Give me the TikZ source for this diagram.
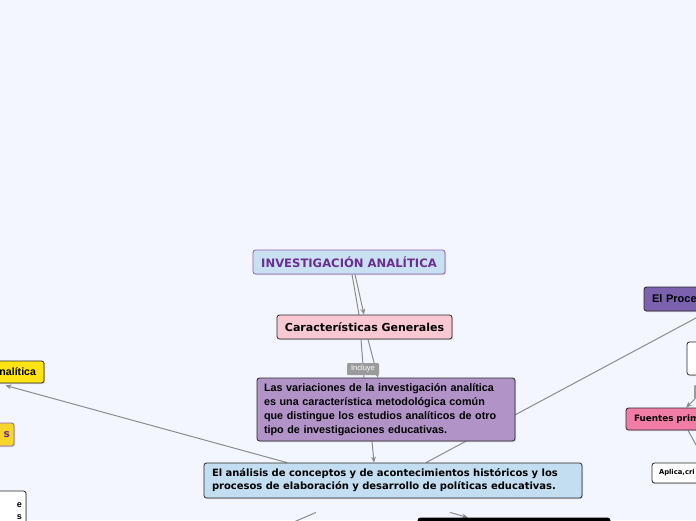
\documentclass[tikz,border=0pt]{standalone}
\usepackage{fontspec}
\setmainfont{DejaVu Sans}
\newfontfamily\arialf{Liberation Sans}
\usetikzlibrary{arrows.meta,shadows}
\pgfdeclarelayer{back}
\pgfdeclarelayer{lines}
\pgfsetlayers{back,lines,main}
\definecolor{bg}{RGB}{243,246,254}
\definecolor{conn}{RGB}{140,140,140}
\definecolor{lblgray}{RGB}{155,155,155}
\definecolor{invfill}{RGB}{200,224,242}
\definecolor{invdraw}{RGB}{142,98,184}
\definecolor{invtext}{RGB}{107,46,143}
\definecolor{pinkfill}{RGB}{250,200,211}
\definecolor{lilac}{RGB}{177,147,200}
\definecolor{bluefill}{RGB}{195,222,241}
\definecolor{yellowA}{RGB}{255,227,20}
\definecolor{yellowB}{RGB}{248,213,42}
\definecolor{procfill}{RGB}{124,97,175}
\definecolor{fuentesfill}{RGB}{241,124,166}
\definecolor{boxdraw}{RGB}{40,40,40}
\tikzset{
  mbox/.style={draw=boxdraw, line width=0.8pt, rounded corners=2.5pt, inner sep=0pt,
    drop shadow={opacity=0.3, shadow xshift=1pt, shadow yshift=-1pt}},
  conline/.style={draw=conn, line width=1pt},
  conarrow/.style={conline, -{Stealth[length=6pt,width=5pt]}},
  lbl/.style={fill=lblgray, text=white, rounded corners=1pt, inner sep=0pt, font=\arialf\fontsize{7.5}{8}\selectfont}
}
\begin{document}
\begin{tikzpicture}[x=1pt,y=-1pt]
\clip (0,0) rectangle (696,520);
\begin{pgfonlayer}{back}
\fill[bg] (0,0) rectangle (696,520);
\end{pgfonlayer}

\node[mbox, fill=invfill, draw=invdraw, text=invtext, minimum width=192pt, minimum height=24pt,
  font=\bfseries\fontsize{11.6}{13}\selectfont] (inv) at (349,262) {INVESTIGACIÓN ANALÍTICA};
\node[mbox, fill=pinkfill, minimum width=175pt, minimum height=24pt,
  font=\bfseries\fontsize{11}{13}\selectfont] (carac) at (364.5,327) {Características Generales};
\node[mbox, fill=lilac, minimum width=258pt, minimum height=63pt, text width=244pt, align=left,
  font=\arialf\bfseries\fontsize{10.8}{13.8}\selectfont] (purp) at (386,409.5)
  {Las variaciones de la investigación analítica\\es una característica metodológica común\\que distingue los estudios analíticos de otro\\tipo de investigaciones educativas.};
\node[mbox, fill=bluefill, minimum width=378pt, minimum height=35pt, text width=362pt, align=left,
  font=\bfseries\fontsize{10}{13}\selectfont] (blue) at (393,480.5)
  {El análisis de conceptos y de acontecimientos históricos y los\\procesos de elaboración y desarrollo de políticas educativas.};
\node[mbox, fill=yellowA, minimum width=120pt, minimum height=22pt, text width=104pt, align=right,
  font=\arialf\bfseries\fontsize{10.6}{12}\selectfont] (yela) at (-16,372) {nalítica};
\node[mbox, fill=yellowB, draw=invdraw, text=invtext, minimum width=60pt, minimum height=23pt, text width=52pt, align=right,
  font=\bfseries\fontsize{10.6}{12}\selectfont] (yelb) at (-16,434.5) {s};
\node[mbox, fill=white, minimum width=60pt, minimum height=40pt, text width=52pt, align=right,
  font=\arialf\bfseries\fontsize{9}{12}\selectfont] (wl) at (-4,511) {e\\s};
\node[mbox, fill=procfill, minimum width=120pt, minimum height=24pt, text width=104pt, align=left,
  font=\arialf\bfseries\fontsize{11}{13}\selectfont] (proc) at (704,299) {El Proce};
\node[mbox, fill=white, minimum width=60pt, minimum height=33pt] (rw) at (717,358.5) {};
\node[mbox, fill=fuentesfill, minimum width=120pt, minimum height=22pt, text width=104pt, align=left,
  font=\bfseries\fontsize{8.8}{10}\selectfont] (fuen) at (686,419) {Fuentes prim};
\node[mbox, fill=white, minimum width=100pt, minimum height=20pt, text width=86pt, align=left,
  font=\bfseries\fontsize{6.8}{8}\selectfont] (apl) at (702,473) {Aplica,cri};
\node[mbox, fill=black, draw=black, minimum width=192pt, minimum height=24pt] (blk) at (514,530) {};

\node[lbl, minimum width=32pt, minimum height=12pt] (incl) at (363,369) {Incluye};
\node[lbl, minimum width=16pt, minimum height=14pt] (rl) at (702,392) {};

\coordinate (pe) at (709,311);
\coordinate (bl) at (280,528);

\begin{pgfonlayer}{lines}
\draw[conline] ([xshift=3pt]inv.south) -- ([xshift=-5.5pt]carac.north);
\draw[conarrow] ([xshift=6pt]inv.south) -- ([xshift=-0.5pt]carac.north);
\draw[conline] ([xshift=-3.5pt]carac.south) -- ([xshift=-22pt]purp.north);
\draw[conarrow] ([xshift=3.5pt]carac.south) -- ([xshift=-8pt]purp.north);
\draw[conarrow] ([xshift=-14pt]purp.south) -- ([xshift=-19pt]blue.north);
\draw[conarrow] ([xshift=-106pt]blue.north) -- ([xshift=-39pt,yshift=-2pt]yela.south east);
\draw[conline] ([xshift=33pt]blue.north) -- (pe);
\draw[conline] ([xshift=-77pt,yshift=-14pt]blue.south) -- (bl);
\draw[conarrow] ([xshift=57pt,yshift=-14pt]blue.south) -- ([xshift=-46pt]blk.north);
\draw[conline] ([xshift=-20pt]rw.south) -- (rl);
\draw[conarrow] (rl) -- (fuen.north);
\draw[conarrow] ([xshift=2pt]fuen.south) -- ([xshift=4pt]apl.north);
\end{pgfonlayer}
\end{tikzpicture}
\end{document}
